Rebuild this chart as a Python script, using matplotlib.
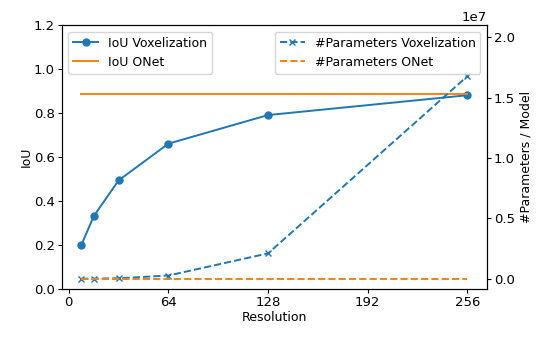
import matplotlib
matplotlib.use("Agg")
import matplotlib.pyplot as plt

plt.rcParams['font.size'] = 9
plt.rcParams['xtick.labelsize'] = 9.5
plt.rcParams['ytick.labelsize'] = 9.5
plt.rcParams['xtick.major.size'] = 2.6
plt.rcParams['ytick.major.size'] = 2.6
plt.rcParams['xtick.major.pad'] = 2.5
plt.rcParams['ytick.major.pad'] = 2.5

resolutions = [8, 16, 32, 64, 128, 256]
iou_voxel = [0.200, 0.332, 0.495, 0.662, 0.792, 0.882]
iou_onet = 0.889
params_voxel = [512, 4096, 32768, 262144, 2097152, 16777216]
params_onet = 0

fig = plt.figure(figsize=(5.53, 3.37), dpi=100)
ax1 = fig.add_axes([0.112, 0.1415, 0.768, 0.7835])
ax2 = ax1.twinx()

ax1.plot(resolutions, iou_voxel, 'o-', color='C0', markersize=5,
         linewidth=1.4, label='IoU Voxelization')
ax1.plot([resolutions[0], resolutions[-1]], [iou_onet, iou_onet], '-',
         color='C1', linewidth=1.4, label='IoU ONet')

ax2.plot(resolutions, params_voxel, 'x--', color='C0', markersize=5,
         linewidth=1.4, label='#Parameters Voxelization')
ax2.plot([resolutions[0], resolutions[-1]], [params_onet, params_onet], '--',
         color='C1', linewidth=1.4, label='#Parameters ONet')

ax1.set_ylim(0, 1.2)
ax2.set_ylim(-0.088e7, 2.1e7)
ax1.set_xticks([0, 64, 128, 192, 256])
ax2.set_yticks([0, 0.5e7, 1.0e7, 1.5e7, 2.0e7])

ax1.set_xlabel('Resolution', labelpad=1)
ax1.set_ylabel('IoU', labelpad=1)
ax2.set_ylabel('#Parameters / Model', labelpad=3)

ax1.legend(loc='upper left')
ax2.legend(loc='upper right')

fig.savefig('out.png', dpi=100)
